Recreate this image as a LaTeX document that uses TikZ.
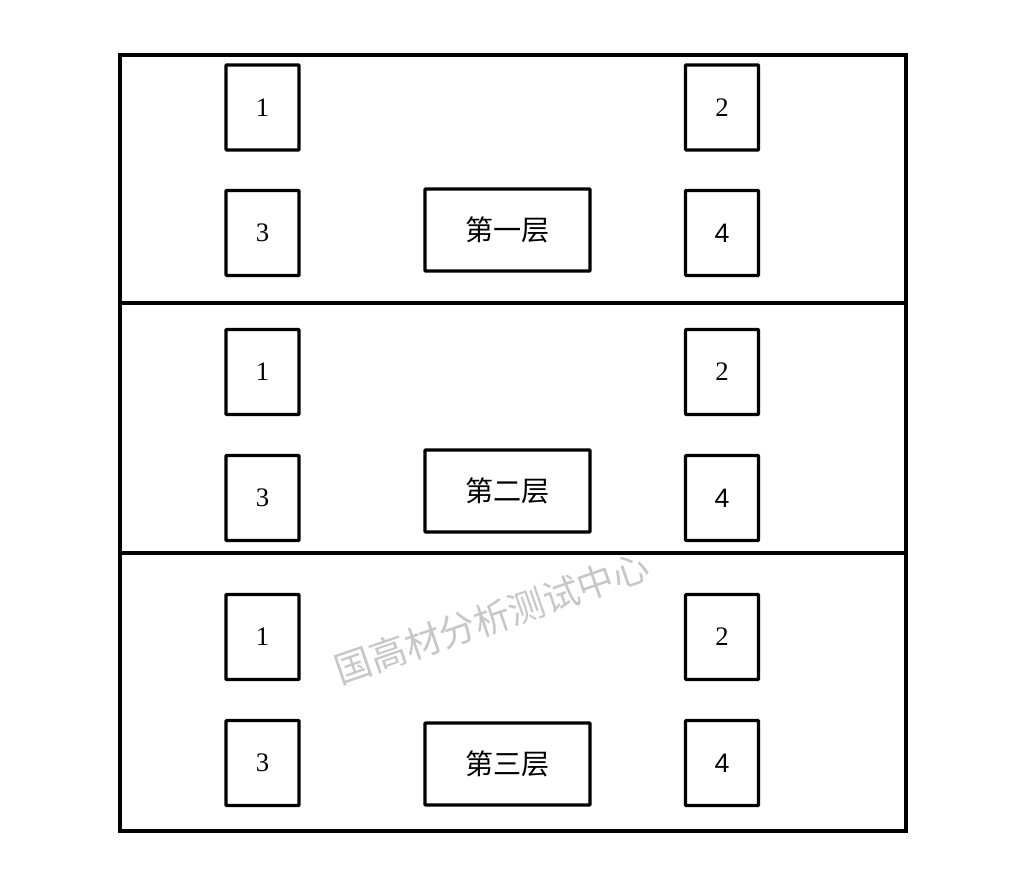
\documentclass[tikz,border=0pt]{standalone}
\usepackage{fontspec}
\setmainfont{Liberation Serif}
\newfontfamily\cjk{Noto Sans CJK SC}
\newfontfamily\arialfont{Liberation Sans}
\usetikzlibrary{positioning}
\tikzset{
    room/.style={draw, line width=2.2pt, rounded corners=0.5pt, minimum width=1.825cm, minimum height=2.125cm, inner sep=0pt, font=\fontsize{19}{19}\selectfont},
    floorlabel/.style={draw, line width=2.2pt, rounded corners=0.5pt, minimum width=4.125cm, minimum height=2.05cm, inner sep=0pt, font=\cjk\fontsize{20}{20}\selectfont},
    wall/.style={line width=2.2pt},
    watermark/.style={text=black!22, font=\cjk\fontsize{26}{26}\selectfont, rotate=19}
}

\begin{document}
\begin{tikzpicture}[x=0.025cm, y=-0.025cm]
    \useasboundingbox (0,0) rectangle (1020,872);

    % Building outline and floor separators
    \draw[wall] (120,55) rectangle (906,831);
    \draw[wall] (120,303) -- (906,303);
    \draw[wall] (120,553) -- (906,553);

    % Rooms on each floor
    \foreach \f/\ya/\yb/\yl/\txt in {1/107.5/233/230/第一层, 2/372/498/491/第二层, 3/637/763/764/第三层} {
        \node[room] (r\f a) at (262.5,\ya) {1};
        \node[room] (r\f b) at (722,\ya) {2};
        \node[room] (r\f c) at (262.5,\yb) {3};
        \node[room, font=\arialfont\fontsize{19}{19}\selectfont] (r\f d) at (722,\yb) {4};
        \node[floorlabel] (floor\f) at (507.5,\yl) {\txt};
    }

    % Watermark
    \node[watermark] (wm) at (492,618) {国高材分析测试中心};
\end{tikzpicture}
\end{document}
